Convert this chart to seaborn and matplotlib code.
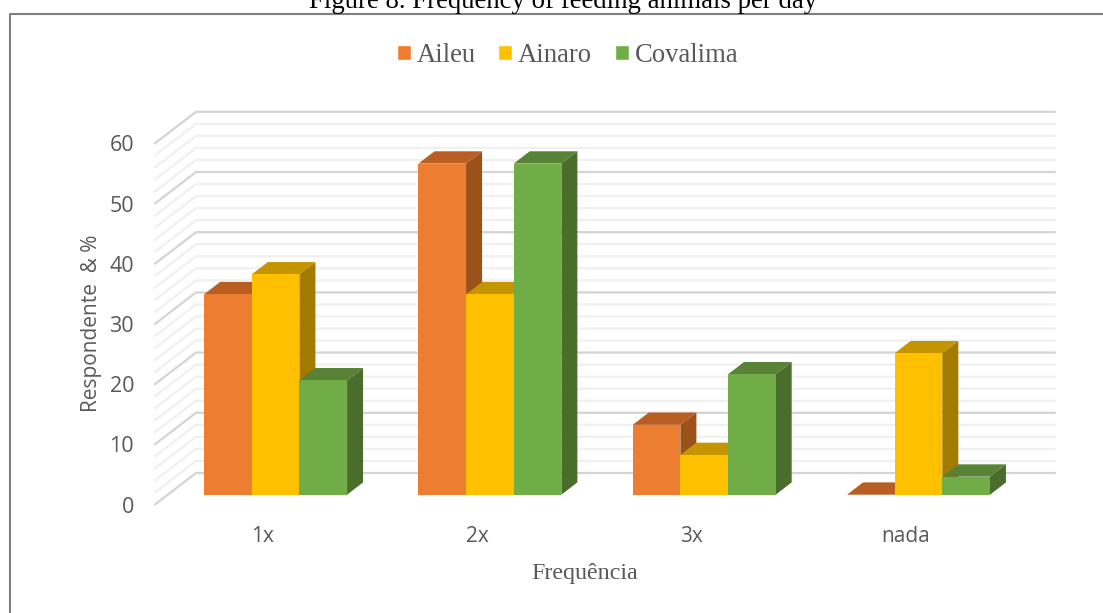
import numpy as np
import pandas as pd
import seaborn as sns
import matplotlib.pyplot as plt
from matplotlib.patches import Polygon, Rectangle
from matplotlib.lines import Line2D
from matplotlib.transforms import Affine2D

categories = ['1x', '2x', '3x', 'nada']
aileu = [33.3, 55, 11.6, 0]
ainaro = [36.6, 33.3, 6.6, 23.5]
covalima = [19, 55, 20, 3]

colors = ['#ED7D31', '#FFC000', '#70AD47']
tops = ['#B85E22', '#C49500', '#588235']
sides = ['#9C5119', '#A27B00', '#4A6D2B']

W, H = 1103, 613
grey = '#595959'

df = pd.DataFrame({'cat': categories * 3,
                   'regiao': ['Aileu'] * 4 + ['Ainaro'] * 4 + ['Covalima'] * 4,
                   'valor': aileu + ainaro + covalima})

sns.set_theme(style='white')
plt.rcParams['font.family'] = ['Liberation Serif']

fig = plt.figure(figsize=(W / 100, H / 100), dpi=100)
ax = fig.add_axes([155 / W, 1 - 494.7 / H, 859 / W, 361.2 / H])
sns.barplot(data=df, x='cat', y='valor', hue='regiao', palette=colors, width=0.667,
            saturation=1, gap=0, ax=ax, legend=False)

# pixel sizes in data units
px_x = 1 / 214.3
px_y = 1 / 6.02
ax.set_xlim((155 - 275.6) * px_x, (1014 - 275.6) * px_x)
ax.set_ylim(0, 60)
x0, x1 = ax.get_xlim()

# back wall lines
for v in np.arange(0, 61, 2):
    major = v % 10 == 0
    c = '#D4D4D4' if major else '#F0F0F0'
    xs = [x0, x0 + 41 * px_x, x1 + 41 * px_x]
    ys = [v - 9.8 * px_y, v + 21.7 * px_y, v + 21.7 * px_y]
    ax.plot(xs, ys, color=c, lw=1.6, clip_on=False, zorder=0.5 if major else 0.4,
            solid_joinstyle='miter')

# fake 3d faces on every bar, painted left to right
bars = []
for i, cont in enumerate(ax.containers):
    for b in cont:
        bars.append((b.get_x(), i, b))
bars.sort(key=lambda t: t[0])
dx = 16 * px_x
dy = 12.3 * px_y
for n, (x, i, b) in enumerate(bars):
    z = 2 + n
    b.set_zorder(z + 0.5)
    b.set_edgecolor('none')
    b.set_clip_on(False)
    w = b.get_width()
    h = b.get_height()
    ax.add_patch(Polygon([(x, h), (x + w, h), (x + w + dx, h + dy), (x + dx, h + dy)],
                         facecolor=tops[i], edgecolor='none', zorder=z, clip_on=False))
    ax.add_patch(Polygon([(x + w, 0), (x + w + dx, dy), (x + w + dx, h + dy), (x + w, h)],
                         facecolor=sides[i], edgecolor='none', zorder=z, clip_on=False))

sns.despine(ax=ax, left=True, bottom=True)
ax.patch.set_alpha(0)
ax.set_xlabel('')
ax.set_ylabel('')
ax.tick_params(length=0)
ax.set_yticks(np.arange(0, 61, 10))
ax.set_xticks(range(4))
ax.set_xticklabels(categories)

for t in ax.get_yticklabels():
    t.set(family='Open Sans', fontsize=15.5, color=grey)
    t.set_transform(t.get_transform() + Affine2D().translate(-16, -10))
for t in ax.get_xticklabels():
    t.set(family='Open Sans', fontsize=15, color=grey)
    t.set_transform(t.get_transform() + Affine2D().translate(-13, -26))

fig.text(91 / W, 1 - 323 / H, 'Respondente  & %', family='Open Sans', fontsize=15, color=grey,
         rotation=90, ha='center', va='center')
fig.text(585 / W, 1 - 573 / H, 'Frequência', fontsize=17.3, color=grey, ha='center', va='center')
fig.text(563 / W, 1 - 8 / H, 'Figure 8. Frequency of feeding animals per day', fontsize=19.3,
         color='black', ha='center', va='baseline')

handles = [Rectangle((0, 0), 1, 1, facecolor=c) for c in colors]
fig.legend(handles, ['Aileu', 'Ainaro', 'Covalima'], ncol=3, loc='center',
           bbox_to_anchor=(567.5 / W, 1 - 55.5 / H), frameon=False, fontsize=19.2,
           labelcolor=grey, handlelength=0.525, handleheight=0.525, handletextpad=0.22,
           columnspacing=0.85, borderpad=0)

# frame round the chart
fig.add_artist(Line2D([9.5 / W, 9.5 / W, 1], [0, 1 - 14 / H, 1 - 14 / H],
                      color='#7F7F7F', lw=1.5))

plt.savefig('out.png', dpi=100)
